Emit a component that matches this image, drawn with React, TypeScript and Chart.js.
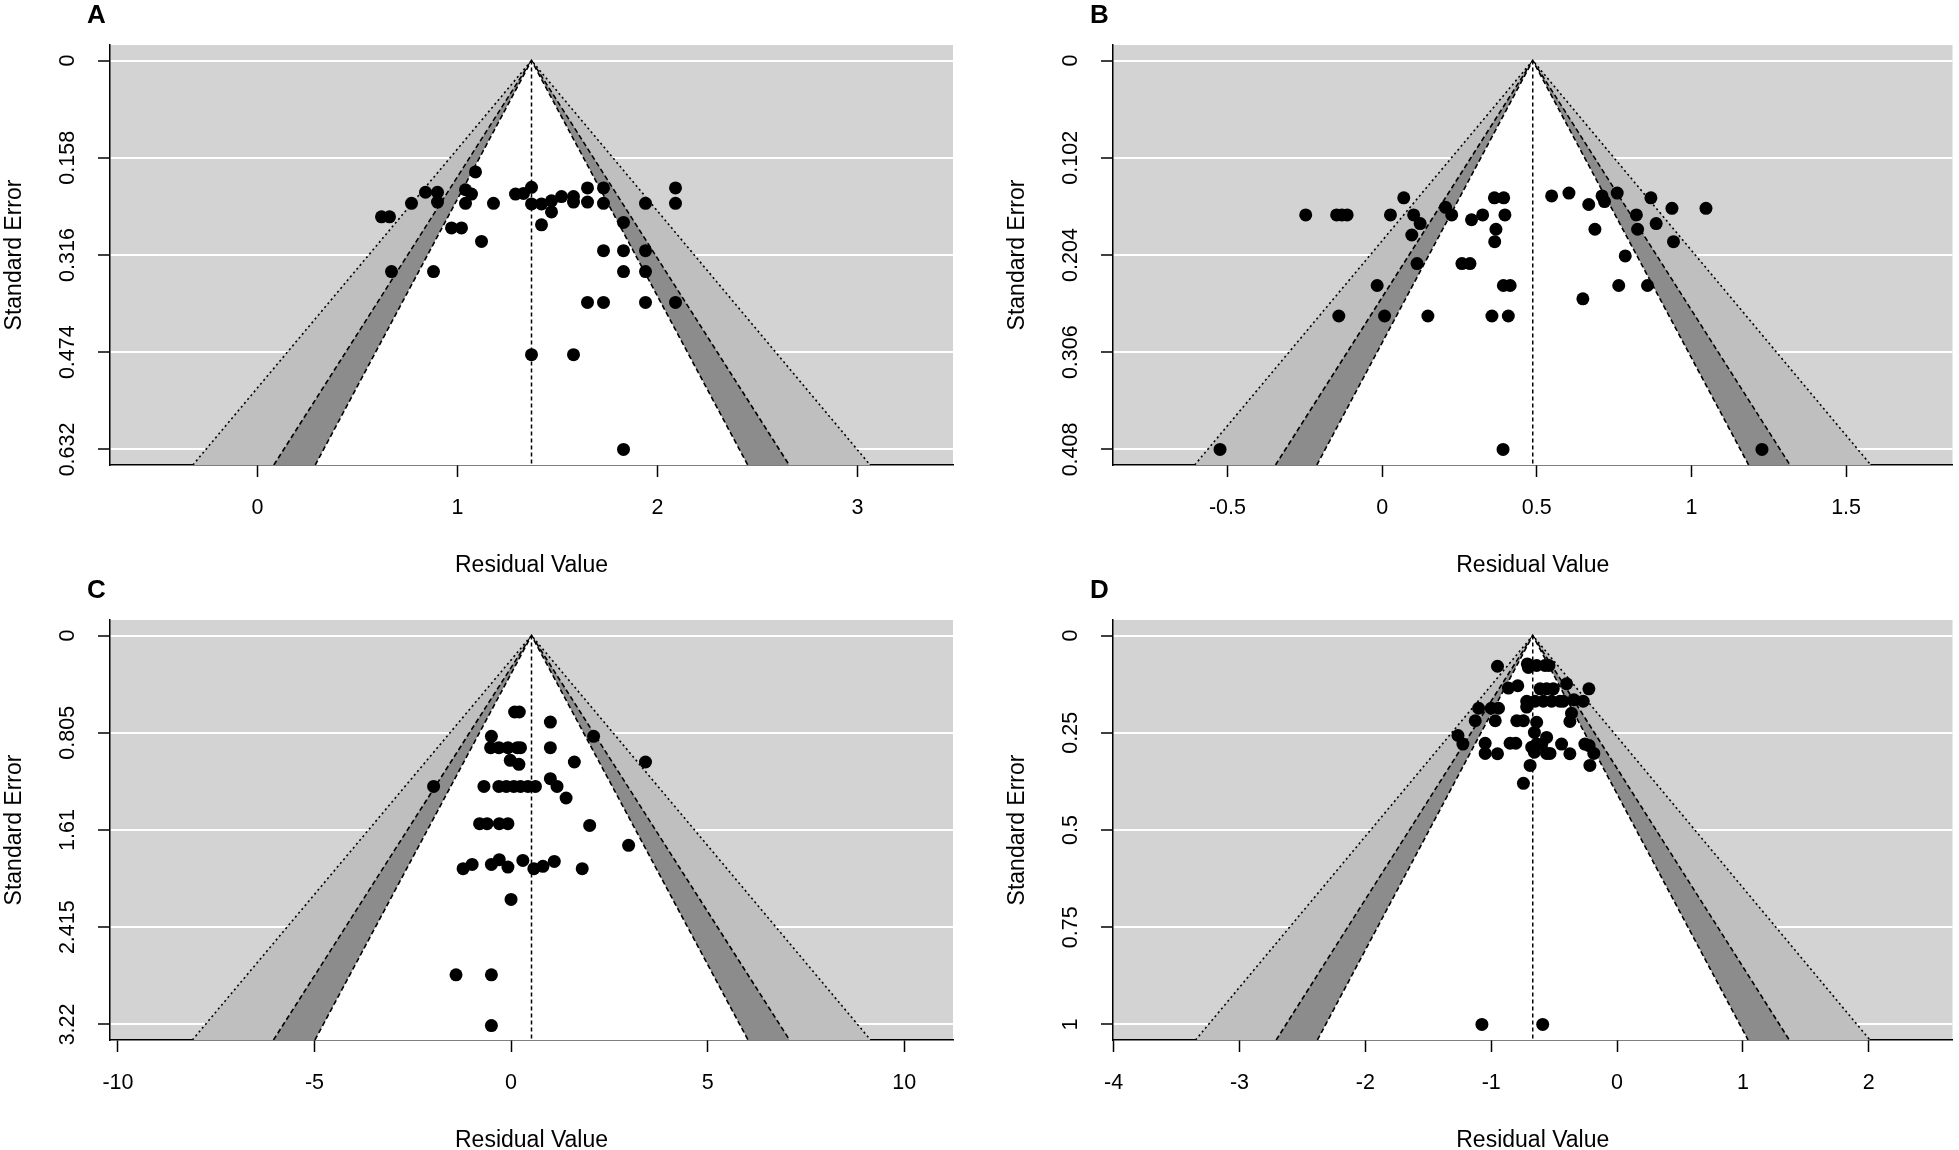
import React, { useEffect, useRef } from "react";
import { Chart, registerables } from "chart.js";

Chart.register(...registerables);

const FONT_FAMILY = "'Liberation Sans', Arial, Helvetica, sans-serif";

// ---------- Panel A ----------
const residualA = [1.09, 0.84, 0.9, 0.9, 0.77, 0.62, 0.66, 1.04, 1.07, 1.04, 0.97, 1.02, 1.12, 1.18, 1.29, 1.33, 1.37, 1.37, 1.42, 1.47, 1.47, 1.42, 1.52, 1.58, 1.58, 1.65, 1.65, 1.73, 1.73, 1.94, 2.09, 2.09, 1.83, 1.73, 1.83, 1.94, 0.67, 0.88, 1.83, 1.94, 1.65, 1.73, 1.94, 2.09, 1.37, 1.58, 1.83];
const seA = [0.181, 0.214, 0.214, 0.23, 0.232, 0.254, 0.254, 0.21, 0.217, 0.232, 0.272, 0.272, 0.294, 0.232, 0.217, 0.216, 0.206, 0.233, 0.233, 0.228, 0.246, 0.267, 0.221, 0.221, 0.23, 0.207, 0.23, 0.207, 0.232, 0.232, 0.207, 0.232, 0.263, 0.309, 0.309, 0.309, 0.343, 0.343, 0.343, 0.343, 0.393, 0.393, 0.393, 0.393, 0.478, 0.478, 0.632];
const estimateA = 1.37;
const xLimitsA = [-0.7375, 3.4775];
const xTicksA = [0, 1, 2, 3];
const yTicksA = [0, 0.158, 0.316, 0.474, 0.632];
const yTickLabelsA = ["0", "0.158", "0.316", "0.474", "0.632"];

// ---------- Panel B ----------
const residualB = [-0.247, -0.147, -0.13, -0.113, 0.027, 0.07, 0.102, 0.123, 0.096, 0.205, 0.225, 0.289, 0.325, 0.363, 0.393, 0.397, 0.368, 0.364, 0.113, 0.258, 0.284, -0.016, 0.392, 0.414, -0.14, 0.008, 0.148, 0.355, 0.408, 0.548, 0.604, 0.711, 0.719, 0.76, 0.668, 0.869, 0.937, 1.047, 0.822, 0.886, 0.826, 0.688, 0.942, 0.786, 0.765, 0.858, 0.649, -0.524, 0.391, 1.228];
const seB = [0.162, 0.162, 0.162, 0.162, 0.162, 0.144, 0.162, 0.171, 0.183, 0.154, 0.162, 0.167, 0.162, 0.144, 0.144, 0.162, 0.177, 0.19, 0.213, 0.213, 0.213, 0.236, 0.236, 0.236, 0.268, 0.268, 0.268, 0.268, 0.268, 0.142, 0.139, 0.142, 0.148, 0.139, 0.151, 0.144, 0.155, 0.155, 0.162, 0.171, 0.177, 0.177, 0.19, 0.205, 0.236, 0.236, 0.25, 0.408, 0.408, 0.408];
const estimateB = 0.487;
const xLimitsB = [-0.87, 1.844];
const xTicksB = [-0.5, 0, 0.5, 1, 1.5];
const yTicksB = [0, 0.102, 0.204, 0.306, 0.408];
const yTickLabelsB = ["0", "0.102", "0.204", "0.306", "0.408"];

// ---------- Panel C ----------
const residualC = [0.09, 0.21, 1.0, -0.5, 2.1, -0.52, -0.31, -0.08, 0.16, 0.24, 1.0, -0.02, 0.2, 1.61, 3.42, -1.97, -0.69, -0.31, -0.12, 0.07, 0.24, 0.43, 0.62, 1.0, 1.17, 1.4, -0.8, -0.61, -0.3, -0.08, 2.0, 2.99, -1.22, -0.99, -0.5, -0.3, -0.08, 0.3, 0.58, 0.81, 1.1, 1.81, 0.0, -1.4, -0.5, -0.5];
const seC = [0.633, 0.633, 0.716, 0.834, 0.834, 0.928, 0.928, 0.928, 0.928, 0.928, 0.928, 1.033, 1.066, 1.047, 1.047, 1.249, 1.249, 1.249, 1.249, 1.249, 1.249, 1.249, 1.249, 1.185, 1.249, 1.345, 1.558, 1.558, 1.558, 1.558, 1.572, 1.737, 1.93, 1.895, 1.895, 1.856, 1.917, 1.862, 1.93, 1.911, 1.87, 1.93, 2.185, 2.809, 2.809, 3.229];
const estimateC = 0.52;
const xLimitsC = [-10.202, 11.242];
const xTicksC = [-10, -5, 0, 5, 10];
const yTicksC = [0, 0.805, 1.61, 2.415, 3.22];
const yTickLabelsC = ["0", "0.805", "1.61", "2.415", "3.22"];

// ---------- Panel D ----------
const residualD = [-0.95, -0.713, -0.705, -0.639, -0.573, -0.541, -0.863, -0.789, -0.612, -0.56, -0.507, -0.401, -0.224, -0.718, -0.652, -0.586, -0.52, -0.454, -0.428, -0.343, -0.269, -0.718, -1.1, -1.0, -0.942, -0.968, -1.127, -0.362, -0.375, -0.797, -0.744, -0.639, -0.657, -1.264, -1.225, -1.048, -1.048, -0.95, -0.85, -0.805, -0.678, -0.639, -0.599, -0.56, -0.657, -0.56, -0.533, -0.441, -0.375, -0.256, -0.222, -0.185, -0.216, -0.691, -0.744, -1.074, -0.591];
const seD = [0.079, 0.073, 0.082, 0.077, 0.077, 0.077, 0.135, 0.129, 0.137, 0.137, 0.137, 0.124, 0.137, 0.169, 0.169, 0.169, 0.169, 0.169, 0.169, 0.165, 0.169, 0.184, 0.187, 0.187, 0.187, 0.219, 0.219, 0.2, 0.221, 0.219, 0.219, 0.223, 0.249, 0.257, 0.279, 0.277, 0.303, 0.304, 0.277, 0.277, 0.287, 0.279, 0.28, 0.262, 0.3, 0.303, 0.303, 0.279, 0.304, 0.279, 0.283, 0.303, 0.334, 0.334, 0.38, 1.0, 1.0];
const estimateD = -0.67;
const xLimitsD = [-4.005, 2.665];
const xTicksD = [-4, -3, -2, -1, 0, 1, 2];
const yTicksD = [0, 0.25, 0.5, 0.75, 1];
const yTickLabelsD = ["0", "0.25", "0.5", "0.75", "1"];

// Contour levels (z for 90%, 95%, 99%) and shades
const contourZ = [1.645, 1.96, 2.576];
const contourFill = ["#FFFFFF", "#8C8C8C", "#BFBFBF"];
const contourDash = [[5, 3], [5, 3], [2, 3]];

const TICK_SIZE = 21.5;
const TITLE_SIZE = 23;

const bgPlugin = {
  id: "plotBackground",
  beforeDraw(chart: any) {
    const { ctx, chartArea: a } = chart;
    ctx.save();
    ctx.fillStyle = "#D3D3D3";
    ctx.fillRect(a.left, a.top, a.right - a.left, a.bottom - a.top);
    ctx.restore();
  },
};

type PanelProps = {
  left: number;
  top: number;
  width: number;
  height: number;
  padRight: number;
  residuals: number[];
  ses: number[];
  est: number;
  xLimits: number[];
  xTicks: number[];
  yTicks: number[];
  yTickLabels: string[];
};

function FunnelPanel(p: PanelProps) {
  const ref = useRef<HTMLCanvasElement | null>(null);
  useEffect(() => {
    if (!ref.current) return;
    const yMaxTick = p.yTicks[p.yTicks.length - 1];
    const yLo = -0.04 * yMaxTick;
    const yHi = 1.04 * yMaxTick;

    const mctx = document.createElement("canvas").getContext("2d")!;
    mctx.font = `normal ${TICK_SIZE}px ${FONT_FAMILY}`;
    let widest = 0;
    p.yTickLabels.forEach((l) => {
      widest = Math.max(widest, mctx.measureText(l).width);
    });
    const tickLen = 12;
    const yPad = 42 - tickLen - widest / 2;

    const funnelDs = (k: number) => ({
      type: "line",
      data: [
        { x: p.est - contourZ[k] * yHi, y: yHi },
        { x: p.est, y: 0 },
        { x: p.est + contourZ[k] * yHi, y: yHi },
      ],
      borderColor: "#000000",
      borderWidth: 1.6,
      borderDash: contourDash[k],
      backgroundColor: contourFill[k],
      fill: { value: yHi },
      pointRadius: 0,
      tension: 0,
      order: 2 + k,
    });

    const chart = new Chart(ref.current, {
      type: "line",
      data: {
        datasets: [
          {
            type: "line",
            data: p.residuals.map((r, i) => ({ x: r, y: p.ses[i] })),
            showLine: false,
            pointRadius: 6.5,
            pointBackgroundColor: "#000000",
            pointBorderColor: "#000000",
            pointBorderWidth: 0,
            order: 0,
          },
          {
            type: "line",
            data: [
              { x: p.est, y: 0 },
              { x: p.est, y: yHi },
            ],
            borderColor: "#000000",
            borderWidth: 1.5,
            borderDash: [4, 3],
            pointRadius: 0,
            fill: false,
            order: 1,
          },
          funnelDs(0),
          funnelDs(1),
          funnelDs(2),
        ] as any,
      },
      options: {
        responsive: false,
        animation: false,
        events: [],
        layout: { padding: { top: 45, right: p.padRight, bottom: 0, left: 0 } },
        plugins: {
          legend: { display: false },
          tooltip: { enabled: false },
          title: { display: false },
        },
        scales: {
          x: {
            type: "linear",
            min: p.xLimits[0],
            max: p.xLimits[1],
            afterBuildTicks: (s: any) => {
              s.ticks = p.xTicks.map((v) => ({ value: v }));
            },
            afterFit: (s: any) => {
              s.height = 110;
            },
            ticks: {
              autoSkip: false,
              minRotation: 0,
              maxRotation: 0,
              padding: 18,
              color: "#000000",
              font: { family: FONT_FAMILY, size: TICK_SIZE },
              callback: (v: any) => String(v),
            },
            grid: {
              display: true,
              drawOnChartArea: false,
              drawTicks: true,
              tickLength: tickLen,
              tickColor: "#000000",
              tickWidth: 1.5,
            },
            border: { display: true, color: "#000000", width: 1.5 },
            title: {
              display: true,
              text: "Residual Value",
              color: "#000000",
              font: { family: FONT_FAMILY, size: TITLE_SIZE, lineHeight: 0.8 },
              padding: { top: 0, bottom: 0 },
            },
          },
          y: {
            type: "linear",
            reverse: true,
            min: yLo,
            max: yHi,
            afterBuildTicks: (s: any) => {
              s.ticks = p.yTicks.map((v) => ({ value: v }));
            },
            afterFit: (s: any) => {
              s.width = 110;
            },
            ticks: {
              autoSkip: false,
              minRotation: 90,
              maxRotation: 90,
              crossAlign: "center",
              padding: yPad,
              color: "#000000",
              font: { family: FONT_FAMILY, size: TICK_SIZE },
              callback: (_v: any, i: number) => p.yTickLabels[i],
            },
            grid: {
              display: true,
              color: "#FFFFFF",
              lineWidth: 2,
              drawOnChartArea: true,
              drawTicks: true,
              tickLength: tickLen,
              tickColor: "#000000",
              tickWidth: 1.5,
            },
            border: { display: true, color: "#000000", width: 1.5 },
            title: {
              display: true,
              text: "Standard Error",
              color: "#000000",
              font: { family: FONT_FAMILY, size: TITLE_SIZE, lineHeight: 1 },
              padding: { top: 3, bottom: 0 },
            },
          },
        },
      } as any,
      plugins: [bgPlugin],
    });
    return () => chart.destroy();
  }, []);

  return (
    <canvas
      ref={ref}
      width={p.width}
      height={p.height}
      style={{ position: "absolute", left: p.left, top: p.top, width: p.width, height: p.height }}
    />
  );
}

const letterStyle = (left: number, top: number): React.CSSProperties => ({
  position: "absolute",
  left,
  top,
  fontFamily: FONT_FAMILY,
  fontWeight: "bold",
  fontSize: 26,
  lineHeight: "26px",
  color: "#000000",
});

export default function App() {
  return (
    <div
      style={{
        position: "absolute",
        left: 0,
        top: 0,
        width: 1959,
        height: 1150,
        background: "#FFFFFF",
        overflow: "hidden",
      }}
    >
      <FunnelPanel left={0} top={0} width={980} height={575} padRight={27} residuals={residualA} ses={seA} est={estimateA} xLimits={xLimitsA} xTicks={xTicksA} yTicks={yTicksA} yTickLabels={yTickLabelsA} />
      <FunnelPanel left={1003} top={0} width={956} height={575} padRight={3} residuals={residualB} ses={seB} est={estimateB} xLimits={xLimitsB} xTicks={xTicksB} yTicks={yTicksB} yTickLabels={yTickLabelsB} />
      <FunnelPanel left={0} top={575} width={980} height={575} padRight={27} residuals={residualC} ses={seC} est={estimateC} xLimits={xLimitsC} xTicks={xTicksC} yTicks={yTicksC} yTickLabels={yTickLabelsC} />
      <FunnelPanel left={1003} top={575} width={956} height={575} padRight={3} residuals={residualD} ses={seD} est={estimateD} xLimits={xLimitsD} xTicks={xTicksD} yTicks={yTicksD} yTickLabels={yTickLabelsD} />
      <div style={letterStyle(87, 0.5)}>A</div>
      <div style={letterStyle(1090, 0.5)}>B</div>
      <div style={letterStyle(87, 575.5)}>C</div>
      <div style={letterStyle(1090, 575.5)}>D</div>
    </div>
  );
}
